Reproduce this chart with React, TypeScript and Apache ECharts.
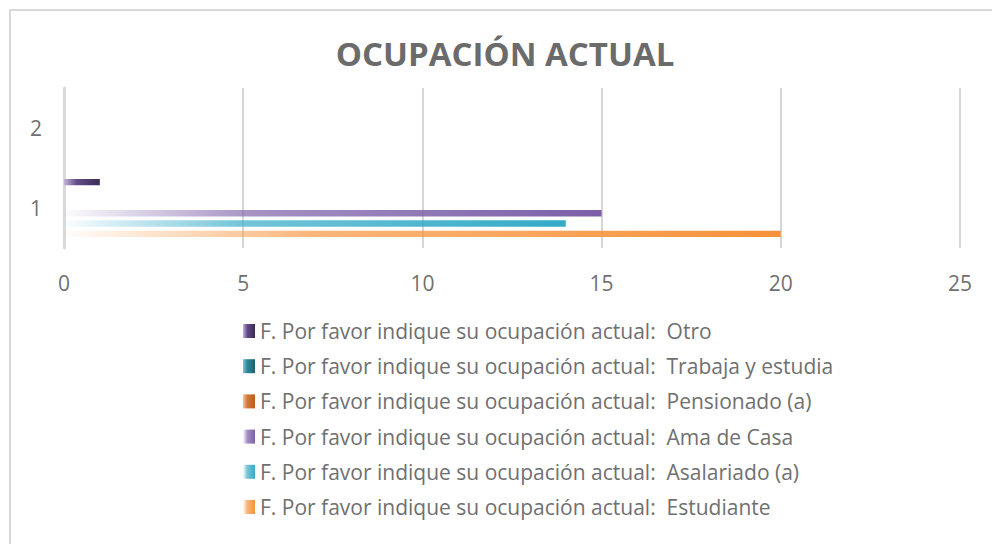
import React, { useEffect, useRef } from "react";
import * as echarts from "echarts";

// ---- Data ----
const categories = ["1", "2"];
const seriesNames = [
  "F. Por favor indique su ocupación actual:  Otro",
  "F. Por favor indique su ocupación actual:  Trabaja y estudia",
  "F. Por favor indique su ocupación actual:  Pensionado (a)",
  "F. Por favor indique su ocupación actual:  Ama de Casa",
  "F. Por favor indique su ocupación actual:  Asalariado (a)",
  "F. Por favor indique su ocupación actual:  Estudiante",
];
const otro = [1, 0];
const trabajaYEstudia = [0, 0];
const pensionado = [0, 0];
const amaDeCasa = [15, 0];
const asalariado = [14, 0];
const estudiante = [20, 0];
const seriesValues = [otro, trabajaYEstudia, pensionado, amaDeCasa, asalariado, estudiante];
const titleText = "OCUPACIÓN ACTUAL";
const xMin = 0;
const xMax = 25;
const xStep = 5;

// ---- Styles ----
const FONT = "'Open Sans', 'Noto Sans', sans-serif";
const TEXT_COLOR = "#707070";

function rgba(hex: string, a: number) {
  const n = parseInt(hex.slice(1), 16);
  return `rgba(${(n >> 16) & 255},${(n >> 8) & 255},${n & 255},${a})`;
}
function fadeGradient(hex: string) {
  return new echarts.graphic.LinearGradient(0, 0, 1, 0, [
    { offset: 0, color: rgba(hex, 0.02) },
    { offset: 0.15, color: rgba(hex, 0.3) },
    { offset: 0.35, color: rgba(hex, 0.68) },
    { offset: 1, color: rgba(hex, 1) },
  ]);
}
function twoToneGradient(light: string, mid: string, dark: string) {
  return new echarts.graphic.LinearGradient(0, 0, 1, 0, [
    { offset: 0, color: light },
    { offset: 0.35, color: mid },
    { offset: 1, color: dark },
  ]);
}
const seriesColors = [
  () => twoToneGradient("#c4b5da", "#634d88", "#3b2a55"),
  () => twoToneGradient("#7cc6d6", "#2e8799", "#1b6270"),
  () => twoToneGradient("#f6c39b", "#d57a35", "#bd5a1b"),
  () => fadeGradient("#7b5ea7"),
  () => fadeGradient("#33aac7"),
  () => fadeGradient("#f7923a"),
];

export default function App() {
  const ref = useRef<HTMLDivElement>(null);
  useEffect(() => {
    if (!ref.current) return;
    const chart = echarts.init(ref.current, undefined, { renderer: "svg" });
    const option: any = {
      animation: false,
      backgroundColor: "#ffffff",
      graphic: [
        {
          type: "rect",
          shape: { x: 10, y: 10, width: 1000, height: 600 },
          style: { fill: "none", stroke: "#d9d9d9", lineWidth: 2 },
          silent: true,
        },
        {
          type: "text",
          x: 505,
          y: 53,
          style: {
            text: titleText,
            fontFamily: FONT,
            fontSize: 33,
            fontWeight: "bold",
            fill: "#6b6b6b",
            align: "center",
            verticalAlign: "middle",
            textAlign: "center",
            textVerticalAlign: "middle",
          },
        },
      ],
      grid: { left: 64, right: 32, top: 88, bottom: 296, containLabel: false },
      xAxis: {
        type: "value",
        min: xMin,
        max: xMax,
        interval: xStep,
        axisLine: { show: false },
        axisTick: { show: false },
        splitLine: { show: true, lineStyle: { color: "#c8c8c8", width: 1.5 } },
        axisLabel: { color: TEXT_COLOR, fontFamily: FONT, fontSize: 21, margin: 24 },
      },
      yAxis: {
        type: "category",
        data: categories,
        axisLine: { show: true, lineStyle: { color: "#d9d9d9", width: 3 } },
        axisTick: { show: false },
        splitLine: { show: false },
        axisLabel: { color: TEXT_COLOR, fontFamily: FONT, fontSize: 21, margin: 22 },
      },
      legend: {
        orient: "vertical",
        left: 238,
        top: 315,
        itemWidth: 12,
        itemHeight: 14,
        itemGap: 13.2,
        icon: "rect",
        data: seriesNames,
        textStyle: { color: TEXT_COLOR, fontFamily: FONT, fontSize: 21, lineHeight: 22 },
      },
      series: seriesNames.map((name, i) => ({
        name,
        type: "bar",
        data: seriesValues[i],
        barWidth: 6.4,
        barGap: "62%",
        itemStyle: { color: seriesColors[i]() },
      })),
    };
    chart.setOption(option);
    return () => chart.dispose();
  }, []);
  return (
    <div
      ref={ref}
      style={{ position: "fixed", left: 0, top: 0, width: 992, height: 544 }}
    />
  );
}
